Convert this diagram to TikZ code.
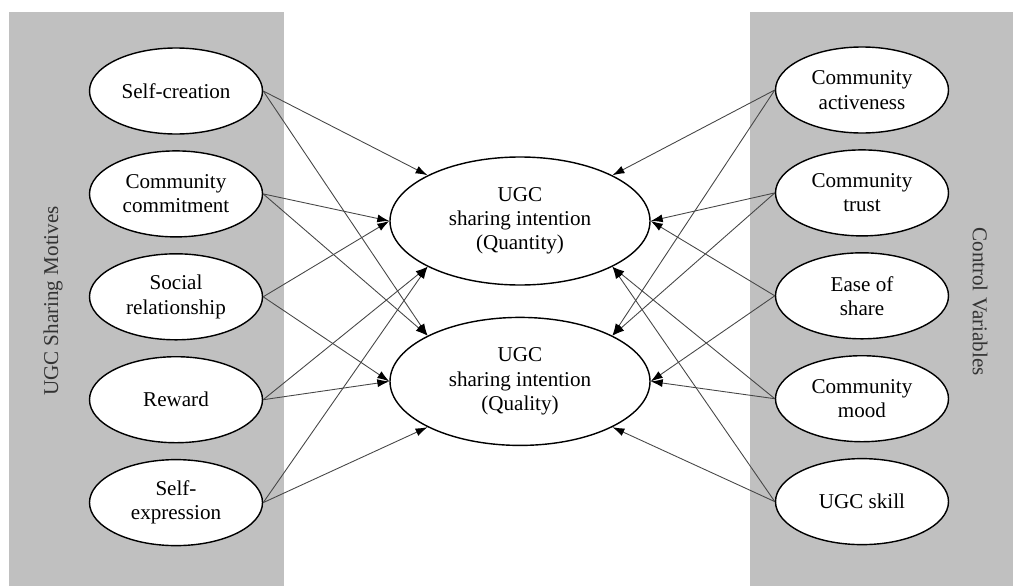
\documentclass[tikz,border=0pt]{standalone}
\usepackage{fontspec}
\setmainfont{Liberation Serif}
\usepackage{tikz}
\usetikzlibrary{shapes.geometric, arrows.meta, positioning}

\definecolor{panelgray}{RGB}{192,192,192}
\definecolor{linkgray}{RGB}{70,70,70}

\begin{document}
\begin{tikzpicture}[
  factor/.style={ellipse, draw, line width=0.8pt, fill=white, minimum width=3.46cm, minimum height=1.72cm, align=center, font=\fontsize{12}{13.8}\selectfont},
  intent/.style={ellipse, draw, line width=0.8pt, fill=white, minimum width=5.2cm, minimum height=2.56cm, align=center, font=\fontsize{12}{13.8}\selectfont},
  panel/.style={rectangle, fill=panelgray, draw=none, inner sep=0pt, anchor=north west},
  sidelabel/.style={font=\fontsize{12}{13.8}\selectfont, text=black!80},
  link/.style={-{Latex[length=2.4mm, width=1.6mm, color=black]}, draw=linkgray, line width=0.5pt}
]
  \useasboundingbox (0,0) rectangle (20.26,-11.72);
  % grey side panels
  \node[panel, minimum width=5.5cm, minimum height=11.48cm] (motpanel) at (0.18,-0.24) {};
  \node[panel, minimum width=5.26cm, minimum height=11.48cm] (ctrlpanel) at (15.0,-0.24) {};
  \node[sidelabel, rotate=90] (motlabel) at (1.06,-6.02) {UGC Sharing Motives};
  \node[sidelabel, rotate=-90] (ctrllabel) at (19.6,-6.03) {Control Variables};

  % motives
  \node[factor] (selfcre) at (3.52,-1.82) {Self-creation};
  \node[factor, below=0.31cm of selfcre] (commit) {Community\\commitment};
  \node[factor, below=0.31cm of commit] (social) {Social\\relationship};
  \node[factor, below=0.31cm of social] (reward) {Reward};
  \node[factor, below=0.31cm of reward] (selfexp) {Self-\\expression};

  % controls
  \node[factor] (activ) at (17.24,-1.80) {Community\\activeness};
  \node[factor, below=0.31cm of activ] (trust) {Community\\trust};
  \node[factor, below=0.31cm of trust] (ease) {Ease of\\share};
  \node[factor, below=0.31cm of ease] (mood) {Community\\mood};
  \node[factor, below=0.31cm of mood] (skill) {UGC skill};

  % intentions
  \node[intent] (quantity) at (10.4,-4.42) {UGC\\sharing intention\\(Quantity)};
  \node[intent, below=0.62cm of quantity] (quality) {UGC\\sharing intention\\(Quality)};

  \draw[link] (selfcre.east) -- (quantity.north west);
  \draw[link] (selfcre.east) -- (quality.north west);
  \draw[link] (commit.east) -- (quantity.west);
  \draw[link] (commit.east) -- (quality.north west);
  \draw[link] (social.east) -- (quantity.west);
  \draw[link] (social.east) -- (quality.west);
  \draw[link] (reward.east) -- (quantity.south west);
  \draw[link] (reward.east) -- (quality.west);
  \draw[link] (selfexp.east) -- (quantity.south west);
  \draw[link] (selfexp.east) -- (quality.south west);

  \draw[link] (activ.west) -- (quantity.north east);
  \draw[link] (activ.west) -- (quality.north east);
  \draw[link] (trust.west) -- (quantity.east);
  \draw[link] (trust.west) -- (quality.north east);
  \draw[link] (ease.west) -- (quantity.east);
  \draw[link] (ease.west) -- (quality.east);
  \draw[link] (mood.west) -- (quantity.south east);
  \draw[link] (mood.west) -- (quality.east);
  \draw[link] (skill.west) -- (quantity.south east);
  \draw[link] (skill.west) -- (quality.south east);
\end{tikzpicture}
\end{document}
